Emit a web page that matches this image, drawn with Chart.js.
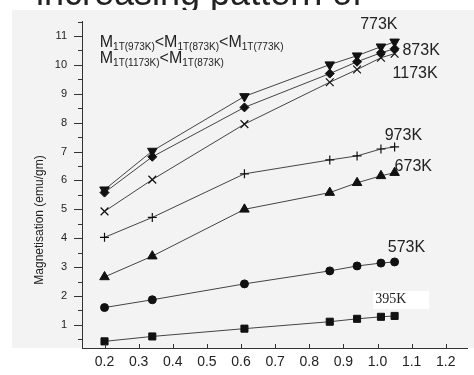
<!DOCTYPE html>
<html>
<head>
<meta charset="utf-8">
<script src="https://cdn.jsdelivr.net/npm/chart.js@4/dist/chart.umd.min.js"></script>
<style>
  html, body { margin: 0; padding: 0; background: #fff; }
  #c { display: block; }
</style>
</head>
<body>
<canvas id="c" width="474" height="375"></canvas>
<script>
// field (T) at which magnetisation was measured
const fieldT = [0.2, 0.34, 0.61, 0.86, 0.94, 1.01, 1.05];

// magnetisation (emu/gm) per annealing temperature
const m395 = [0.43, 0.60, 0.87, 1.11, 1.21, 1.28, 1.31];
const m573 = [1.60, 1.87, 2.42, 2.87, 3.04, 3.14, 3.18];
const m673 = [2.66, 3.38, 5.00, 5.58, 5.92, 6.16, 6.27];
const m973 = [4.03, 4.72, 6.23, 6.71, 6.85, 7.09, 7.16];
const m1173 = [4.93, 6.03, 7.95, 9.40, 9.84, 10.25, 10.39];
const m873 = [5.58, 6.82, 8.53, 9.70, 10.11, 10.42, 10.56];
const m773 = [5.68, 7.02, 8.91, 10.01, 10.32, 10.63, 10.80];

const seriesNames = ['395K', '573K', '673K', '973K', '1173K', '873K', '773K'];

const xTicks = [0.2, 0.3, 0.4, 0.5, 0.6, 0.7, 0.8, 0.9, 1.0, 1.1, 1.2];
const yTicks = [1, 2, 3, 4, 5, 6, 7, 8, 9, 10, 11];

const yTitle = 'Magnetisation (emu/gm)';
const topText = 'increasing pattern of';

// 曲線ラベルの位置 (データ座標)
const curveLabels = [
    { text: '773K', x: 0.949, y: 11.39 },
    { text: '873K', x: 1.073, y: 10.49 },
    { text: '1173K', x: 1.044, y: 9.70 },
    { text: '973K', x: 1.021, y: 7.57 },
    { text: '673K', x: 1.050, y: 6.47 },
    { text: '573K', x: 1.030, y: 3.69 },
];

function pts(vals) {
    return vals.map((v, i) => ({ x: fieldT[i], y: v }));
}

function series(idx, vals, style, radius, extra) {
    return Object.assign({
        label: seriesNames[idx],
        data: pts(vals),
        borderColor: '#444',
        borderWidth: 1,
        pointStyle: style,
        pointRadius: radius,
        pointBackgroundColor: '#111',
        pointBorderColor: '#111',
        pointBorderWidth: 1,
        fill: false,
        tension: 0
    }, extra || {});
}

// 背景・軸の目盛り・注記を描画
const decor = {
    id: 'decor',
    beforeDraw(chart) {
        const ctx = chart.ctx;
        const a = chart.chartArea;
        ctx.save();
        ctx.fillStyle = '#fff';
        ctx.fillRect(0, 0, chart.width, chart.height);
        ctx.fillStyle = '#222';
        ctx.font = '36px "Liberation Sans", Arial, sans-serif';
        ctx.textBaseline = 'alphabetic';
        ctx.fillText(topText, 36, 5);
        ctx.fillStyle = '#f3f3f3';
        ctx.fillRect(12, 10, chart.width - 12, a.bottom - 10);
        ctx.restore();
    },
    afterDraw(chart) {
        const ctx = chart.ctx;
        const xs = chart.scales.x, ys = chart.scales.y;
        const a = chart.chartArea;
        ctx.save();
        ctx.strokeStyle = '#333';
        ctx.lineWidth = 1;
        ctx.beginPath();
        for (let v = 0.5; v <= 11.5; v += 0.5) {
            const py = Math.round(ys.getPixelForValue(v)) + 0.5;
            const len = Number.isInteger(v) ? 8 : 4;
            ctx.moveTo(a.left - len, py);
            ctx.lineTo(a.left, py);
        }
        xTicks.forEach(v => {
            const px = Math.round(xs.getPixelForValue(v)) + 0.5;
            ctx.moveTo(px, a.bottom);
            ctx.lineTo(px, a.bottom - 4);
        });
        ctx.stroke();

        // y軸タイトル
        ctx.fillStyle = '#222';
        ctx.font = '12px "Liberation Sans", Arial, sans-serif';
        ctx.textAlign = 'center';
        ctx.textBaseline = 'middle';
        ctx.translate(40, 220);
        ctx.rotate(-Math.PI / 2);
        ctx.fillText(yTitle, 0, 0);
        ctx.restore();

        ctx.save();
        ctx.fillStyle = '#222';
        ctx.textBaseline = 'middle';
        ctx.textAlign = 'left';
        ctx.font = '16px "Liberation Sans", Arial, sans-serif';
        curveLabels.forEach(l => {
            ctx.fillText(l.text, xs.getPixelForValue(l.x), ys.getPixelForValue(l.y));
        });

        // 395K は白い枠の上に明朝体で
        const bx = xs.getPixelForValue(0.993), by = ys.getPixelForValue(1.90);
        ctx.fillStyle = '#fff';
        ctx.fillRect(bx - 2, by - 8, 56, 18);
        ctx.fillStyle = '#222';
        ctx.font = '14px "Liberation Serif", "Times New Roman", serif';
        ctx.fillText(seriesNames[0], bx, by);

        // 不等式
        const lines = [
            { y: 10.63, parts: ['973K', '873K', '773K'] },
            { y: 10.08, parts: ['1173K', '873K'] },
        ];
        ctx.textBaseline = 'alphabetic';
        lines.forEach(line => {
            let px = xs.getPixelForValue(0.186);
            const py = ys.getPixelForValue(line.y);
            line.parts.forEach((p, i) => {
                ctx.font = '16px "Liberation Sans", Arial, sans-serif';
                ctx.fillText('M', px, py);
                px += ctx.measureText('M').width;
                ctx.font = '10px "Liberation Sans", Arial, sans-serif';
                const sub = '1T(' + p + ')';
                ctx.fillText(sub, px, py + 3);
                px += ctx.measureText(sub).width;
                if (i < line.parts.length - 1) {
                    ctx.font = '16px "Liberation Sans", Arial, sans-serif';
                    ctx.fillText('<', px, py);
                    px += ctx.measureText('<').width;
                }
            });
        });
        ctx.restore();
    }
};

new Chart(document.getElementById('c').getContext('2d'), {
    type: 'line',
    data: {
        datasets: [
            series(0, m395, 'rect', 5),
            series(1, m573, 'circle', 4),
            series(2, m673, 'triangle', 5.5),
            series(3, m973, 'cross', 4.5, { pointBorderWidth: 1.2 }),
            series(4, m1173, 'crossRot', 5.5, { pointBorderWidth: 1.2 }),
            series(5, m873, 'rectRot', 4.5),
            series(6, m773, 'triangle', 5.5, { pointRotation: 180 })
        ]
    },
    options: {
        responsive: false,
        animation: false,
        devicePixelRatio: 1,
        layout: { padding: { top: 20, right: 0, bottom: 0, left: 0 } },
        plugins: { legend: { display: false }, tooltip: { enabled: false } },
        scales: {
            x: {
                type: 'linear',
                min: 0.134,
                max: 1.263,
                afterBuildTicks: s => { s.ticks = xTicks.map(v => ({ value: v })); },
                afterFit: s => { s.height = 27; },
                grid: { display: false, drawTicks: false },
                border: { display: true, color: '#333', width: 1 },
                ticks: {
                    color: '#222',
                    font: { family: '"Liberation Sans", Arial, sans-serif', size: 14 },
                    padding: 6,
                    autoSkip: false,
                    maxRotation: 0,
                    callback: v => Number(v).toFixed(1)
                }
            },
            y: {
                type: 'linear',
                min: 0.2,
                max: 11.5,
                afterBuildTicks: s => { s.ticks = yTicks.map(v => ({ value: v })); },
                afterFit: s => { s.width = 82; },
                grid: { display: false, drawTicks: false },
                border: { display: true, color: '#333', width: 1 },
                ticks: {
                    color: '#222',
                    font: { family: '"Liberation Sans", Arial, sans-serif', size: 11 },
                    padding: 15,
                    callback: v => String(v)
                }
            }
        }
    },
    plugins: [decor]
});
</script>
</body>
</html>
